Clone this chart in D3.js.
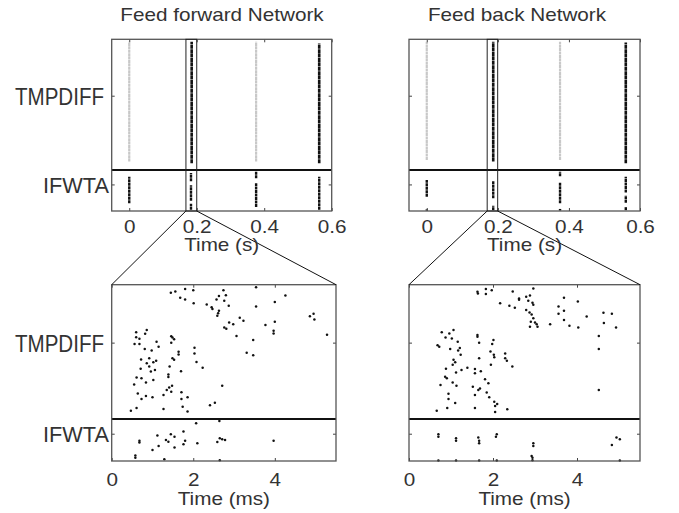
<!DOCTYPE html>
<html>
<head>
<meta charset="utf-8">
<title>Spike rasters</title>
<style>
  body { margin: 0; background: #fff; }
  svg text { font-family: "Liberation Sans", Arial, sans-serif; fill: #333; }
</style>
</head>
<body>
<svg id="chart" width="679" height="513"></svg>
<script src="https://d3js.org/d3.v7.min.js"></script>
<script>
// ---- data ----
const titles = ['Feed forward Network', 'Feed back Network'];
const groupNames = ['TMPDIFF', 'IFWTA'];
const groupTicks = [28.2, 6.5];       // neuron index of each group label
const groupSplit = 10;                // IFWTA below, TMPDIFF above
const sTicks = [0, 0.2, 0.4, 0.6];
const sTickLabels = ['0', '0.2', '0.4', '0.6'];
const msTicks = [0, 2, 4];
const msTickLabels = ['0', '2', '4'];

// top rasters: [time (s), neuron from, neuron to]
const ffGrayBursts = [[0, 12.1, 41.4], [0.376, 12.1, 41.4]];
const ffBlackBursts = [[0.185, 11.7, 41.4], [0.563, 11.7, 41.0]];
const ffWtaBursts = [[0, 1.9, 8.4], [0.183, 7.3, 9.3], [0.183, 2.5, 6.3], [0.183, 0.3, 1.8],
  [0.376, 8.0, 9.6], [0.376, 1.0, 6.8], [0.563, 0.3, 8.4]];
const fbGrayBursts = [[0, 12.5, 41.4], [0.375, 12.5, 41.4]];
const fbBlackBursts = [[0.187, 12.1, 41.4], [0.560, 11.7, 41.2]];
const fbWtaBursts = [[0, 3.5, 7.6], [0, 0.1, 0.4], [0.187, 3.1, 7.3], [0.187, 0.2, 1.3],
  [0.375, 8.5, 9.6], [0.375, 1.9, 6.9], [0.375, 0.1, 0.5],
  [0.560, 4.5, 8.4], [0.560, 2.0, 3.8], [0.560, 0.2, 1.0]];
const ffWindow = [0.168, 0.2];
const fbWindow = [0.170, 0.1995];

// zoomed rasters: [time (ms), neuron]
const ffTmpSpikes = [
  [1.45,40.1],[1.56,40.4],[1.80,41.0],[2.00,40.7],[1.68,38.9],[1.80,38.5],[2.01,37.6],
  [2.74,40.7],[2.80,39.5],[2.63,39.3],[2.57,38.5],[2.76,38.2],[2.33,37.3],[2.45,36.6],
  [2.47,36.2],[2.63,35.8],[2.61,35.2],[2.59,34.6],[2.87,37.0],[3.54,41.4],[4.26,39.4],
  [4.00,37.9],[3.54,36.8],[3.14,34.1],[3.23,33.4],[2.88,33.0],[2.98,32.6],[2.76,31.8],
  [2.81,31.5],[3.77,32.4],[4.00,33.2],[3.97,31.0],[3.97,30.4],[3.06,29.8],[3.47,28.8],
  [4.86,34.5],[4.95,35.1],[4.97,33.7],[5.28,30.1],[3.31,25.8],[3.47,25.2],
  [0.60,30.7],[0.86,31.2],[0.82,30.3],[0.60,29.5],[0.68,29.1],[0.56,27.9],[0.68,27.9],
  [1.10,28.4],[1.15,27.2],[0.81,26.7],[0.98,26.3],[1.46,29.7],[1.49,29.4],[1.53,29.0],
  [1.46,28.2],[1.64,26.0],[1.64,25.4],[2.03,27.0],[2.03,25.6],[0.72,24.2],[0.92,24.5],
  [0.86,23.3],[1.02,23.5],[1.09,23.9],[0.92,22.5],[1.49,24.5],[1.53,24.1],[2.08,23.6],
  [2.23,22.2],[0.71,22.0],[1.06,21.7],[0.96,21.3],[1.42,22.5],[1.70,21.4],[0.61,19.9],
  [0.73,19.7],[1.39,20.6],[1.39,20.0],[1.02,19.3],
  [0.55,18.2],[0.84,18.7],[2.71,17.9],[0.64,16.1],[0.73,14.8],[0.84,15.5],[1.00,15.2],
  [1.27,15.7],[1.35,16.9],[1.41,17.5],[1.48,17.9],[1.46,16.5],[1.71,16.4],[1.71,14.8],
  [1.86,15.2],[1.74,12.9],[1.86,11.8],[0.61,12.6],[0.47,12.0],[1.27,12.4],[2.41,13.3],
  [2.53,13.9]
];
const ffWtaSpikes = [
  [2.07,9.0],[2.64,9.5],[1.76,7.0],[1.12,6.1],[1.45,6.4],[1.54,5.8],[1.33,5.0],[1.39,4.6],
  [0.68,4.8],[0.68,4.4],[1.80,4.8],[1.76,4.0],[2.10,4.2],[1.54,3.2],[1.15,3.6],[1.00,2.6],
  [2.65,5.4],[2.71,5.2],[2.78,5.0],[2.59,4.5],[3.97,4.8],[0.58,1.3],[0.58,0.8],[1.29,0.4],
  [2.65,0.2]
];
const fbTmpSpikes = [
  [1.63,40.3],[1.64,39.9],[1.83,41.0],[1.83,39.8],[1.97,40.7],[2.47,40.4],[2.96,41.1],
  [2.17,37.6],[2.39,37.0],[2.52,36.5],[2.62,38.7],[2.62,38.4],[2.79,39.1],[2.88,39.4],
  [2.84,38.2],[2.94,37.7],[2.96,37.2],[2.79,36.0],[2.87,35.4],[2.92,34.9],[2.96,34.0],
  [2.90,33.2],[3.00,33.0],[3.04,32.6],[3.06,32.0],[2.88,32.0],[3.36,32.6],[3.56,36.8],
  [3.56,35.1],[3.69,38.9],[3.69,35.8],[3.69,33.6],[3.82,32.2],[4.02,38.0],[4.03,31.8],
  [4.23,34.4],[4.63,35.3],[4.83,35.1],[4.64,32.9],[4.93,31.8],[4.52,29.8],[4.52,26.7],
  [0.78,30.7],[0.96,30.4],[1.06,31.2],[0.87,29.4],[1.02,29.2],[1.16,28.4],[0.68,27.6],
  [0.72,27.2],[0.98,26.7],[1.21,26.9],[1.17,26.3],[1.23,25.3],[1.63,30.0],[1.63,29.6],
  [1.67,28.2],[2.01,28.8],[1.98,27.9],[1.94,26.1],[2.02,25.3],[2.03,24.7],[2.29,25.6],
  [2.29,24.5],[2.33,23.9],[2.46,22.5],[1.67,24.5],[1.95,22.9],[1.06,24.1],[1.10,23.5],
  [1.04,22.9],[0.88,22.0],[1.12,21.1],[1.25,21.7],[1.39,22.2],[1.57,21.9],[1.57,20.9],
  [1.71,21.4],[0.86,20.1],[0.90,19.7],[1.81,19.5],
  [0.75,18.1],[1.04,18.7],[1.13,17.9],[1.52,17.7],[1.69,17.3],[1.65,16.9],[1.57,15.7],
  [1.85,16.3],[1.91,15.2],[1.89,18.5],[0.94,16.0],[0.94,14.8],[1.10,13.8],[2.03,14.1],
  [2.10,13.6],[2.05,13.1],[0.91,12.6],[0.66,12.0],[1.57,12.6],[2.05,11.7],[2.34,12.3],
  [4.52,16.9]
];
const fbWtaSpikes = [
  [0.70,6.4],[0.70,5.8],[1.12,5.4],[1.12,4.8],[1.65,5.6],[1.67,4.8],[1.67,4.2],[2.09,6.4],
  [2.07,5.8],[2.96,4.2],[2.96,3.6],[2.92,1.2],[2.94,0.8],[2.94,0.2],[4.83,3.8],[4.94,5.6],
  [5.02,5.2],[0.70,0.1],[1.12,0.1],[1.67,0.1],[2.09,0.1],[5.02,0.1]
];

// ---- layout ----
const svg = d3.select('#chart');
const topY = [39.3, 211], botY = [284.7, 461];
const panels = [
  { title: titles[0], titleX: 222, topX: [111.7, 331.7], sDomain: [-0.052, 0.6], botX: [111.7, 336],
    gray: ffGrayBursts, black: ffBlackBursts, wta: ffWtaBursts, win: ffWindow,
    tmp: ffTmpSpikes, wtaSp: ffWtaSpikes, labels: true },
  { title: titles[1], titleX: 517, topX: [409, 640], sDomain: [-0.05, 0.6], botX: [409, 640],
    gray: fbGrayBursts, black: fbBlackBursts, wta: fbWtaBursts, win: fbWindow,
    tmp: fbTmpSpikes, wtaSp: fbWtaSpikes, labels: false }
];

function label(x, y, txt, size, anchor) {
  return svg.append('text')
    .attr('transform', `translate(${x},${y}) scale(1.15,1)`)
    .attr('text-anchor', anchor || 'middle')
    .style('font-size', size + 'px')
    .text(txt);
}

function frame(xr, yr, x, y, ticks, tickLabels, labelGap) {
  const g = svg.append('g');
  g.append('g').attr('transform', `translate(0,${yr[1]})`)
    .call(d3.axisBottom(x).tickValues(ticks).tickSize(-3).tickPadding(0)
      .tickFormat((d, i) => tickLabels[i]))
    .call(a => a.select('.domain').remove())
    .call(a => a.selectAll('line').attr('stroke', '#444'))
    .call(a => a.selectAll('text').attr('y', labelGap).attr('dy', 0)
      .attr('transform', 'scale(1.15,1)').style('font-size', '18px')
      .attr('font-family', null).style('fill', '#333'));
  g.append('g').attr('transform', `translate(0,${yr[0]})`)
    .call(d3.axisTop(x).tickValues(ticks).tickSize(-3).tickFormat(''))
    .call(a => a.select('.domain').remove())
    .call(a => a.selectAll('line').attr('stroke', '#444'));
  g.append('g').attr('transform', `translate(${xr[0]},0)`)
    .call(d3.axisLeft(y).tickValues(groupTicks).tickSize(-3).tickFormat(''))
    .call(a => a.select('.domain').remove())
    .call(a => a.selectAll('line').attr('stroke', '#444'));
  g.append('g').attr('transform', `translate(${xr[1]},0)`)
    .call(d3.axisRight(y).tickValues(groupTicks).tickSize(-3).tickFormat(''))
    .call(a => a.select('.domain').remove())
    .call(a => a.selectAll('line').attr('stroke', '#444'));
  g.append('line')
    .attr('x1', xr[0]).attr('x2', xr[1])
    .attr('y1', y(groupSplit)).attr('y2', y(groupSplit))
    .attr('stroke', '#111').attr('stroke-width', 2);
  g.append('rect')
    .attr('x', xr[0]).attr('y', yr[0])
    .attr('width', xr[1] - xr[0]).attr('height', yr[1] - yr[0])
    .attr('fill', 'none').attr('stroke', '#555').attr('stroke-width', 1.3);
}

panels.forEach(p => {
  // top overview raster
  const xs = d3.scaleLinear().domain(p.sDomain).range(p.topX);
  const yt = d3.scaleLinear().domain([0, 42]).range([topY[1], topY[0]]);

  const bursts = (data, color, width, dash) => svg.append('g').selectAll('line')
    .data(data).enter().append('line')
    .attr('x1', d => xs(d[0])).attr('x2', d => xs(d[0]))
    .attr('y1', d => yt(d[1])).attr('y2', d => yt(d[2]))
    .attr('stroke', color).attr('stroke-width', width)
    .attr('stroke-dasharray', dash);
  bursts(p.gray, '#c8c8c8', 2.2, '3 0.4');
  bursts(p.black, '#111', 2.6, '4 0.4');
  bursts(p.wta, '#111', 2.4, '3 0.5');

  frame(p.topX, topY, xs, yt, sTicks, sTickLabels, 22.3);

  svg.append('rect')
    .attr('x', xs(p.win[0])).attr('y', topY[0])
    .attr('width', xs(p.win[1]) - xs(p.win[0])).attr('height', topY[1] - topY[0])
    .attr('fill', 'none').attr('stroke', '#222').attr('stroke-width', 1);

  // zoomed raster
  const xm = d3.scaleLinear().domain([0, 5.5]).range(p.botX);
  const yb = d3.scaleLinear().domain([0, 42]).range([botY[1], botY[0]]);

  svg.append('g').selectAll('circle')
    .data(p.tmp.concat(p.wtaSp)).enter().append('circle')
    .attr('cx', d => xm(d[0])).attr('cy', d => yb(d[1]))
    .attr('r', 1.25).attr('fill', '#111');

  frame(p.botX, botY, xm, yb, msTicks, msTickLabels, 25);

  // connector lines
  svg.append('line')
    .attr('x1', xs(p.win[0])).attr('y1', topY[1])
    .attr('x2', p.botX[0]).attr('y2', botY[0])
    .attr('stroke', '#111').attr('stroke-width', 1);
  svg.append('line')
    .attr('x1', xs(p.win[1])).attr('y1', topY[1])
    .attr('x2', p.botX[1]).attr('y2', botY[0])
    .attr('stroke', '#111').attr('stroke-width', 1);

  // texts
  label(p.titleX, 20.7, p.title, 18);
  label((p.topX[0] + p.topX[1]) / 2, 251, 'Time (s)', 18);
  label((p.botX[0] + p.botX[1]) / 2, 505, 'Time (ms)', 18);

  if (p.labels) {
    [[yt, 0], [yb, 1]].forEach(([ys]) => {
      svg.append('text').attr('x', 15).attr('y', ys(groupTicks[0]) + 9)
        .attr('textLength', 89).attr('lengthAdjust', 'spacingAndGlyphs')
        .style('font-size', '23px').text(groupNames[0]);
      svg.append('text').attr('x', 43).attr('y', ys(groupTicks[1]) + 8.4)
        .attr('textLength', 66).attr('lengthAdjust', 'spacingAndGlyphs')
        .style('font-size', '22px').text(groupNames[1]);
    });
  }
});
</script>
</body>
</html>
